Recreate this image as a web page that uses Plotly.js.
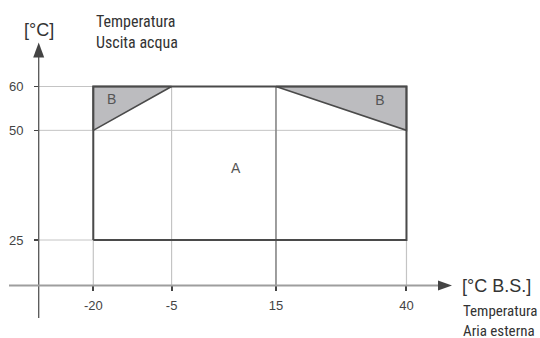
<!DOCTYPE html>
<html>
<head>
<meta charset="utf-8">
<script src="https://cdn.plot.ly/plotly-3.0.1.min.js"></script>
<style>html,body{margin:0;padding:0;background:#fff;}#chart{width:540px;height:338px;}</style>
</head>
<body>
<div id="chart"></div>
<script>
// ---- data ----
const xTicks = [-20, -5, 15, 40];
const xTickText = ['-20', '-5', '15', '40'];
const yTicks = [25, 50, 60];
const yTickText = ['25', '50', '60'];

const zoneAX = [-20, 40, 40, -20, -20];
const zoneAY = [25, 25, 60, 60, 25];
const zoneB1X = [-20, -20, -5, -20];
const zoneB1Y = [50, 60, 60, 50];
const zoneB2X = [15, 40, 40, 15];
const zoneB2Y = [60, 60, 50, 60];

const zoneNames = ['A', 'B', 'B'];
const zoneLabelX = [7.3, -16.5, 34.9];
const zoneLabelY = [41.1, 56.7, 56.5];

const yTitle = '[°C]';
const yTitleSub = 'Temperatura<br>Uscita acqua';
const xTitle = '[°C B.S.]';
const xTitleSub = 'Temperatura<br>Aria esterna';

// ---- layout geometry ----
const W = 540, H = 338;
const M = {l: 39, r: 0, t: 0, b: 53};
const xRange = [-30.40, 65.58];
const yRange = [14.74, 79.72];
const PW = W - M.l - M.r, PH = H - M.t - M.b;
const px = v => (v - M.l) / PW;          // pixel -> paper x
const py = v => (H - M.b - v) / PH;      // pixel -> paper y

const FONT = '"Liberation Sans", Arial, sans-serif';
const NARROW = '"Liberation Sans Narrow", "Arial Narrow", "Roboto Condensed", "Liberation Sans", sans-serif';

const traces = [];
const xMaxTick = Math.max(...xTicks), yMaxTick = Math.max(...yTicks);
// grid lines from the axes up to the chart box
yTicks.forEach(v => traces.push({x: [xRange[0], xMaxTick], y: [v, v], mode: 'lines',
  line: {color: '#c4c4c4', width: 1}, hoverinfo: 'skip'}));
xTicks.forEach(v => traces.push({x: [v, v], y: [yRange[0], yMaxTick], mode: 'lines',
  line: {color: v === 15 ? '#858585' : '#c4c4c4', width: v === 15 ? 1.6 : 1.2}, hoverinfo: 'skip'}));
// B zones
[[zoneB1X, zoneB1Y], [zoneB2X, zoneB2Y]].forEach(([x, y]) => traces.push({
  x, y, mode: 'lines', fill: 'toself', fillcolor: '#bcbcbf',
  line: {color: '#4a4a4a', width: 1.6}, hoverinfo: 'skip'}));
// A zone
traces.push({x: zoneAX, y: zoneAY, mode: 'lines', line: {color: '#4a4a4a', width: 2}, hoverinfo: 'skip'});
// zone labels
traces.push({x: zoneLabelX, y: zoneLabelY, text: zoneNames, mode: 'text',
  textfont: {family: FONT, size: 14, color: '#555'}, hoverinfo: 'skip'});

const shapes = [
  // y axis line + arrow
  {type: 'line', xref: 'paper', yref: 'paper', x0: px(38.7), x1: px(38.7), y0: py(318), y1: py(56),
   line: {color: '#555', width: 1.3}},
  {type: 'path', xref: 'paper', yref: 'paper', fillcolor: '#444', line: {width: 0},
   path: `M ${px(33.2)} ${py(57.5)} L ${px(44.2)} ${py(57.5)} L ${px(38.7)} ${py(42.5)} Z`},
  // x axis line + arrow
  {type: 'line', xref: 'paper', yref: 'paper', x0: px(9), x1: px(439), y0: py(285.5), y1: py(285.5),
   line: {color: '#9e9e9e', width: 2}},
  {type: 'path', xref: 'paper', yref: 'paper', fillcolor: '#444', line: {width: 0},
   path: `M ${px(438)} ${py(280.5)} L ${px(438)} ${py(290.5)} L ${px(452)} ${py(285.5)} Z`}
];

const annotations = [
  {xref: 'paper', yref: 'paper', x: px(39), y: py(30), text: yTitle, showarrow: false,
   xanchor: 'center', yanchor: 'middle', font: {family: FONT, size: 18, color: '#333'}},
  {xref: 'paper', yref: 'paper', x: px(94), y: py(32), text: yTitleSub, showarrow: false, align: 'left',
   xanchor: 'left', yanchor: 'middle', font: {family: NARROW, size: 16, color: '#333'}},
  {xref: 'paper', yref: 'paper', x: px(460), y: py(286), text: xTitle, showarrow: false,
   xanchor: 'left', yanchor: 'middle', font: {family: FONT, size: 18, color: '#333'}},
  {xref: 'paper', yref: 'paper', x: px(461), y: py(321), text: xTitleSub, showarrow: false, align: 'left',
   xanchor: 'left', yanchor: 'middle', font: {family: NARROW, size: 15, color: '#333'}}
];

const layout = {
  width: W, height: H, margin: M, showlegend: false,
  paper_bgcolor: '#fff', plot_bgcolor: '#fff',
  xaxis: {range: xRange, tickmode: 'array', tickvals: xTicks, ticktext: xTickText,
    showgrid: false, zeroline: false, showline: false, ticks: 'outside', ticklen: 5, tickwidth: 2,
    tickcolor: '#444', ticklabelstandoff: 3, tickfont: {family: FONT, size: 13, color: '#444'}},
  yaxis: {range: yRange, tickmode: 'array', tickvals: yTicks, ticktext: yTickText,
    showgrid: false, zeroline: false, showline: false, ticks: 'outside', ticklen: 4, tickwidth: 1.5,
    tickcolor: '#444', ticklabelstandoff: 8, tickfont: {family: FONT, size: 13, color: '#444'}},
  shapes, annotations
};

Plotly.newPlot('chart', traces, layout, {staticPlot: true, displayModeBar: false});
</script>
</body>
</html>
